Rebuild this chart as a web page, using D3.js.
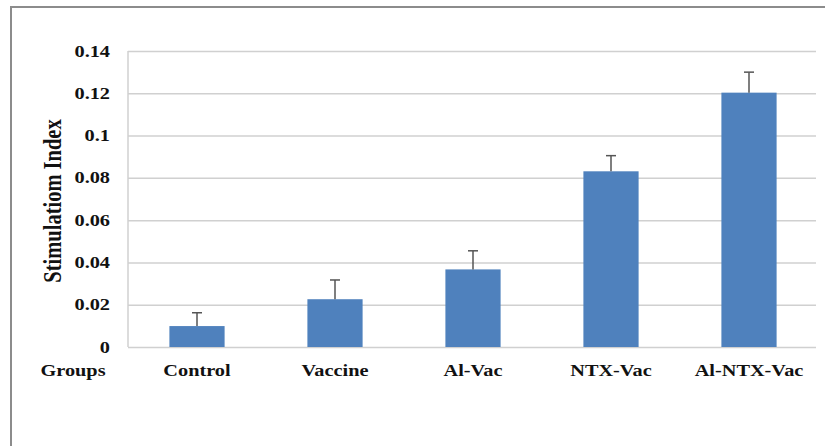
<!DOCTYPE html>
<html>
<head>
<meta charset="utf-8">
<script src="https://cdn.jsdelivr.net/npm/d3@7"></script>
<style>
  body { margin: 0; background: #fff; }
  svg text { font-family: 'Liberation Serif', 'DejaVu Serif', serif; font-weight: bold; fill: #111; }
  .grid line { stroke: #d0d0d0; stroke-width: 1.5; }
  .grid path { display: none; }
</style>
</head>
<body>
<svg></svg>
<script>
// data
const groups = ["Control", "Vaccine", "Al-Vac", "NTX-Vac", "Al-NTX-Vac"];
const means = [0.0099, 0.0226, 0.0367, 0.0831, 0.1203];
const errors = [0.0063, 0.0091, 0.0088, 0.0074, 0.0097];
const yTicks = [0, 0.02, 0.04, 0.06, 0.08, 0.1, 0.12, 0.14];

const W = 825, H = 446;
const plotLeft = 128, plotRight = 818, plotTop = 51, plotBottom = 347;
const stretch = 1.27; // the original picture is stretched sideways

const svg = d3.select('svg')
    .attr('width', W)
    .attr('height', H);

// outer frame (top and left edge only visible)
svg.append('path')
    .attr('d', `M11,${H} L11,7 L${W},7`)
    .attr('fill', 'none')
    .attr('stroke', '#8c8c8c')
    .attr('stroke-width', 2);

const yScale = d3.scaleLinear()
    .domain([0, 0.14])
    .range([plotBottom, plotTop]);

const xScale = d3.scaleBand()
    .domain(groups)
    .range([plotLeft, plotRight])
    .padding(0);

// horizontal grid lines
svg.append('g')
    .attr('class', 'grid')
    .attr('transform', `translate(${plotLeft},0)`)
    .call(d3.axisLeft(yScale)
        .tickValues(yTicks)
        .tickSize(-(plotRight - plotLeft - 2))
        .tickFormat(''));

// left axis line
svg.append('line')
    .attr('x1', plotLeft).attr('x2', plotLeft)
    .attr('y1', plotTop).attr('y2', plotBottom)
    .attr('stroke', '#d0d0d0')
    .attr('stroke-width', 1.5);

// y tick labels
svg.append('g')
    .selectAll('text')
    .data(yTicks)
    .enter()
    .append('text')
    .attr('transform', d => `translate(110,${yScale(d) + 5.5}) scale(${stretch},1)`)
    .attr('text-anchor', 'end')
    .attr('font-size', 16)
    .text(d => d3.format('')(d));

// bars
const barW = xScale.bandwidth() * 0.4;
svg.append('g')
    .selectAll('rect')
    .data(groups)
    .enter()
    .append('rect')
    .attr('x', (g) => xScale(g) + (xScale.bandwidth() - barW) / 2)
    .attr('y', (g, i) => yScale(means[i]))
    .attr('width', barW)
    .attr('height', (g, i) => plotBottom - yScale(means[i]))
    .attr('fill', '#4f81bd');

// error bars (upper only)
const err = svg.append('g')
    .attr('stroke', '#555')
    .attr('stroke-width', 1.5);
groups.forEach((g, i) => {
    const cx = xScale(g) + xScale.bandwidth() / 2;
    const y0 = yScale(means[i]);
    const y1 = yScale(means[i] + errors[i]);
    err.append('line').attr('x1', cx).attr('x2', cx).attr('y1', y0).attr('y2', y1);
    err.append('line').attr('x1', cx - 5).attr('x2', cx + 5).attr('y1', y1).attr('y2', y1);
});

// x labels
svg.append('g')
    .selectAll('text')
    .data(groups)
    .enter()
    .append('text')
    .attr('transform', g => `translate(${xScale(g) + xScale.bandwidth() / 2},376) scale(${stretch},1)`)
    .attr('text-anchor', 'middle')
    .attr('font-size', 16)
    .text(g => g);

svg.append('text')
    .attr('transform', `translate(73,376) scale(${stretch},1)`)
    .attr('text-anchor', 'middle')
    .attr('font-size', 16)
    .text('Groups');

// y axis title
svg.append('text')
    .attr('transform', `translate(61,201) scale(${stretch},1) rotate(-90)`)
    .attr('text-anchor', 'middle')
    .attr('font-size', 20.5)
    .text('Stimulatiom Index');
</script>
</body>
</html>
